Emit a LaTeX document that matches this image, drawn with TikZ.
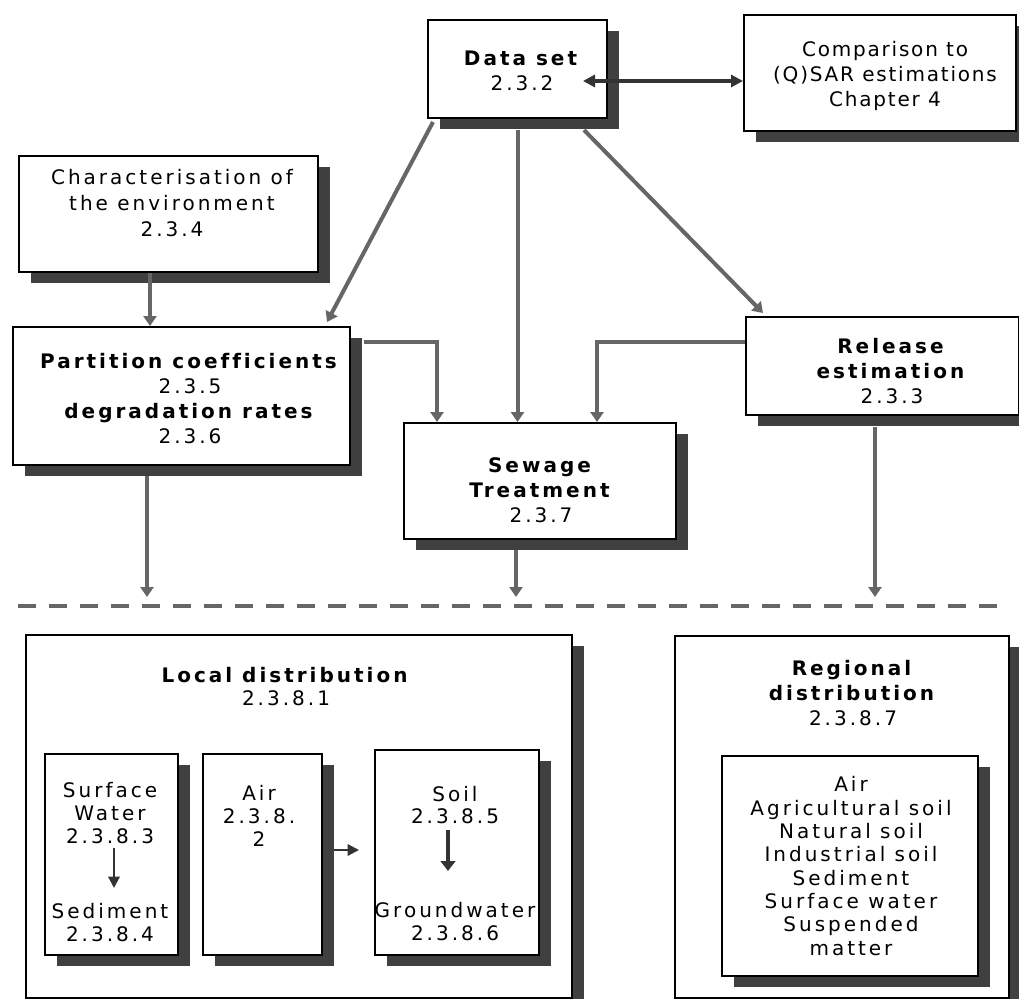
\documentclass[tikz,border=0pt]{standalone}
\usepackage{fontspec}
\setmainfont[LetterSpace=15,Ligatures=NoCommon]{DejaVu Sans}
\newfontfamily\cmpfont[LetterSpace=9,Ligatures=NoCommon]{DejaVu Sans}
\usetikzlibrary{arrows.meta,shadows,calc}
\definecolor{shd}{HTML}{404040}
\definecolor{conn}{HTML}{666666}
\definecolor{dark}{HTML}{333333}
\begin{document}
\begin{tikzpicture}[x=0.75pt,y=-0.75pt,
  font=\fontsize{15pt}{18.75pt}\selectfont,
  box/.style={draw=black, line width=1.5pt, fill=white, rectangle, inner sep=0pt, anchor=north west,
    drop shadow={shadow xshift=9pt, shadow yshift=-8.25pt, fill=shd, opacity=1}},
  txt/.style={anchor=base, align=center, inner sep=0pt},
  gline/.style={draw=conn, line width=3pt, -{Triangle[width=9.75pt,length=7.5pt]}},
  kline/.style={draw=dark, line width=1.6pt, -{Triangle[width=8.5pt,length=8.5pt]}},
  dline/.style={draw=dark, line width=2.4pt, {Triangle[width=9pt,length=9pt]}-{Triangle[width=9pt,length=9pt]}}
]
\useasboundingbox (0,0) rectangle (1019,998);
\fill[white] (0,0) rectangle (1019,998);

% boxes
\node[box, minimum width=134.25pt, minimum height=73.5pt] (data) at (427,19) {};
\node[box, minimum width=204pt, minimum height=87pt] (cmp) at (743,14) {};
\node[box, minimum width=224.25pt, minimum height=87pt] (char) at (18,155) {};
\node[box, minimum width=252.75pt, minimum height=103.5pt] (part) at (12,326) {};
\node[box, minimum width=204pt, minimum height=87pt] (sew) at (403,422) {};
\node[box, minimum width=204.75pt, minimum height=73.5pt] (rel) at (745,316) {};
\node[box, minimum width=409.5pt, minimum height=272.25pt] (loc) at (25,634) {};
\node[box, minimum width=99.75pt, minimum height=150.75pt] (sw) at (44,753) {};
\node[box, minimum width=89.25pt, minimum height=150.75pt] (air) at (202,753) {};
\node[box, minimum width=123pt, minimum height=153.75pt] (soil) at (374,749) {};
\node[box, minimum width=250.5pt, minimum height=271.5pt] (reg) at (674,635) {};
\node[box, minimum width=192pt, minimum height=165pt] (regin) at (721,755) {};

% texts (anchored at the baseline of their last line)
\node[txt] (dataT) at (522,91) {\textbf{Data set}\\2.3.2};
\node[txt, font=\cmpfont\fontsize{15pt}{18.75pt}\selectfont] (cmpT) at (885,107) {Comparison to\\(Q)SAR estimations\\Chapter 4};
\node[txt, font=\fontsize{15pt}{19.5pt}\selectfont] (charT) at (172,237) {Characterisation of\\the environment\\2.3.4};
\node[txt] (partT) at (190,443) {\textbf{Partition coefficients}\\2.3.5\\\textbf{degradation rates}\\2.3.6};
\node[txt] (sewT) at (541,522) {\textbf{Sewage}\\\textbf{Treatment}\\2.3.7};
\node[txt] (relT) at (892,403) {\textbf{Release}\\\textbf{estimation}\\2.3.3};
\node[txt, font=\fontsize{15pt}{17.25pt}\selectfont] (locT) at (286,705) {\textbf{Local distribution}\\2.3.8.1};
\node[txt, font=\fontsize{15pt}{17.25pt}\selectfont] (swT) at (110,843) {Surface\\Water\\2.3.8.3};
\node[txt, font=\fontsize{15pt}{17.25pt}\selectfont] (sedT) at (110,941) {Sediment\\2.3.8.4};
\node[txt, font=\fontsize{15pt}{17.25pt}\selectfont] (airT) at (259,846) {Air\\2.3.8.\\2};
\node[txt, font=\fontsize{15pt}{16.2pt}\selectfont] (soilT) at (455,823) {Soil\\2.3.8.5};
\node[txt, font=\fontsize{15pt}{17.25pt}\selectfont] (gwT) at (455,940) {Groundwater\\2.3.8.6};
\node[txt] (regT) at (853,725) {\textbf{Regional}\\\textbf{distribution}\\2.3.8.7};
\node[txt, font=\fontsize{15pt}{17.5pt}\selectfont] (reginT) at (851,955) {Air\\Agricultural soil\\Natural soil\\Industrial soil\\Sediment\\Surface water\\Suspended\\matter};

% coordinates
\coordinate (stop) at (0,597);
\coordinate (dsA) at ($(data.north west)+(156,62)$);
\coordinate (c1) at ($(char.south west)+(132,0)$);
\coordinate (p1) at ($(part.north east)+(13,16)$);
\coordinate (r1) at ($(rel.north west)+(0,26)$);
\coordinate (p2) at ($(part.south west)+(135,10)$);
\coordinate (s2) at ($(sew.south west)+(113,10)$);
\coordinate (r2) at ($(rel.south west)+(130,11)$);
\coordinate (ds2) at ($(data.south)+(0,11)$);
\coordinate (a1) at ($(air.north east)+(11,97)$);
\coordinate (w1) at ($(sw.north west)+(70,95)$);
\coordinate (g1) at ($(soil.north west)+(74,81)$);
\coordinate (dl) at (18,606);
\coordinate (dr) at (997,606);

% connectors
\draw[dline] (dsA) -- (dsA -| cmp.west);
\draw[gline] ($(data.south west)+(6,3)$) -- ($(part.north east)+(-24,-4)$);
\draw[gline] (ds2) -- (ds2 |- sew.north);
\draw[gline] ($(data.south east)+(-24,11)$) -- ($(rel.north west)+(18,-3)$);
\draw[gline, line width=3.6pt] (c1) -- (c1 |- part.north);
\draw[gline] (p1) -| ($(sew.north west)+(34,0)$);
\draw[gline] (r1) -| ($(sew.north west)+(194,0)$);
\draw[gline] (p2) -- (p2 |- stop);
\draw[gline] (s2) -- (s2 |- stop);
\draw[gline] (r2) -- (r2 |- stop);
\draw[draw=conn, line width=3pt, dash pattern=on 13.5pt off 9.75pt] (dl) -- (dr);

\draw[kline] (w1) -- ++(0,40);
\draw[kline] (a1) -- ($(a1 -| soil.west)+(-15,0)$);
\draw[draw=dark, line width=3pt, -{Triangle[width=11pt,length=7.5pt]}] (g1) -- ++(0,41);
\end{tikzpicture}
\end{document}
